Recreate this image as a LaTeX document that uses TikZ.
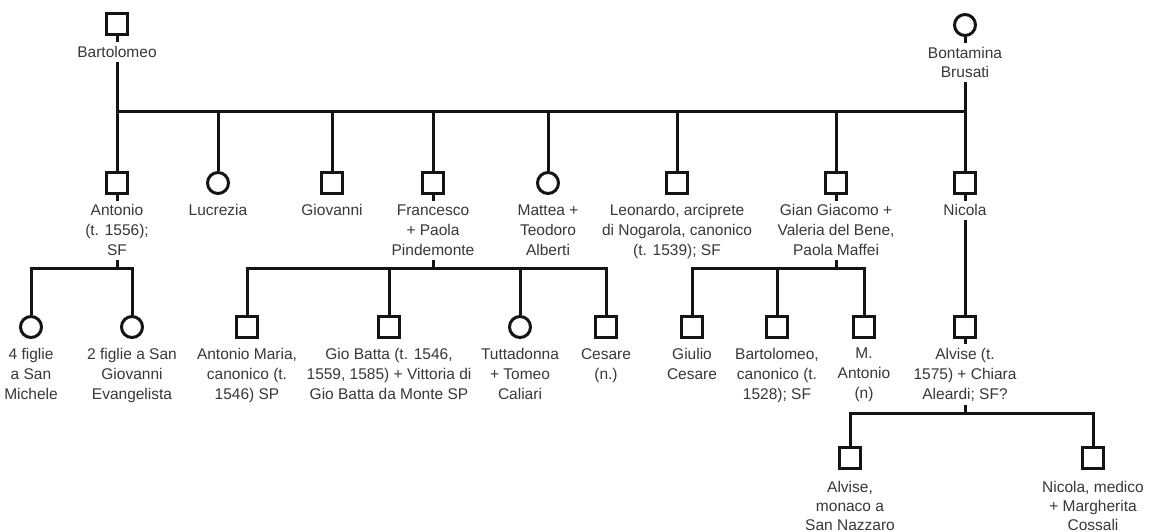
\documentclass[tikz,border=0pt]{standalone}
\usepackage{fontspec}
\setmainfont{Liberation Sans}
\pgfdeclarelayer{bg}
\pgfsetlayers{bg,main}
\begin{document}
\begin{tikzpicture}[x=1pt,y=-1pt,
  male/.style={draw=black!92, line width=3pt, fill=white, rectangle, minimum size=21pt, inner sep=0pt},
  female/.style={draw=black!92, line width=3pt, fill=white, circle, minimum size=21pt, inner sep=0pt},
  link/.style={draw=black!92, line width=3pt, line join=miter},
  lab/.style={align=center, fill=white, inner xsep=2pt, inner ysep=4pt, anchor=north, text=black!78, font=\fontsize{15.5}{20}\selectfont},
  labb/.style={lab, font=\fontsize{15.5}{19}\selectfont}]
\useasboundingbox (0,0) rectangle (1153,532);
% generation 1
\node[male] (bart) at (117,24.5) {};
\node[female] (bont) at (965,25) {};
\node[lab] (bart-l) at (117,42) {Bartolomeo};
\node[labb] (bont-l) at (965,43) {Bontamina\\Brusati};
% generation 2
\node[male] (anton) at (117,183) {};
\node[female] (lucr) at (218,183) {};
\node[male] (giov) at (332,183) {};
\node[male] (fran) at (433,183) {};
\node[female] (matt) at (548,183) {};
\node[male] (leon) at (677,183) {};
\node[male] (giang) at (836,183) {};
\node[male] (nicola) at (965,183) {};
\node[lab] (anton-l) at (117,200.5) {Antonio\\(t. 1556);\\SF};
\node[lab] (lucr-l) at (218,200.5) {Lucrezia};
\node[lab] (giov-l) at (332,200.5) {Giovanni};
\node[lab] (fran-l) at (433,200.5) {Francesco\\+ Paola\\Pindemonte};
\node[lab] (matt-l) at (548,200.5) {Mattea +\\Teodoro\\Alberti};
\node[lab] (leon-l) at (677,200.5) {Leonardo, arciprete\\di Nogarola, canonico\\(t. 1539); SF};
\node[lab] (giang-l) at (836,200.5) {Gian Giacomo +\\Valeria del Bene,\\Paola Maffei};
\node[lab] (nicola-l) at (965,200.5) {Nicola};
% generation 3
\node[female] (fig4) at (31,327) {};
\node[female] (fig2) at (132,327) {};
\node[male] (amaria) at (247,327) {};
\node[male] (giob) at (389,327) {};
\node[female] (tutta) at (520,327) {};
\node[male] (cesare) at (606,327) {};
\node[male] (giulio) at (692,327) {};
\node[male] (bart2) at (777,327) {};
\node[male] (mant) at (864,327) {};
\node[male] (alvise) at (965,327) {};
\node[lab] (fig4-l) at (31,344) {4 figlie\\a San\\Michele};
\node[lab] (fig2-l) at (132,344) {2 figlie a San\\Giovanni\\Evangelista};
\node[lab] (amaria-l) at (247,344) {Antonio Maria,\\canonico (t.\\1546) SP};
\node[lab] (giob-l) at (389,344) {Gio Batta (t. 1546,\\1559, 1585) + Vittoria di\\Gio Batta da Monte SP};
\node[lab] (tutta-l) at (520,344) {Tuttadonna\\+ Tomeo\\Caliari};
\node[lab] (cesare-l) at (606,344) {Cesare\\(n.)};
\node[lab] (giulio-l) at (692,344) {Giulio\\Cesare};
\node[lab] (bart2-l) at (777,344) {Bartolomeo,\\canonico (t.\\1528); SF};
\node[lab] (mant-l) at (864,344) {M.\\Antonio\\(n)};
\node[lab] (alvise-l) at (965,344) {Alvise (t.\\1575) + Chiara\\Aleardi; SF?};
% generation 4
\node[male] (alv2) at (850,458) {};
\node[male] (nic2) at (1093,458) {};
\node[labb] (alv2-l) at (850,477.5) {Alvise,\\monaco a\\San Nazzaro};
\node[labb] (nic2-l) at (1093,477.5) {Nicola, medico\\+ Margherita\\Cossali};
% bar coordinates
\coordinate (barA) at (0,112);
\coordinate (barB) at (0,268.5);
\coordinate (barC) at (0,413);
\begin{pgfonlayer}{bg}
\draw[link] (bart) -- (anton);
\draw[link] (bont) -- (nicola);
\draw[link] (bart |- barA) -- (bont |- barA);
\foreach \c in {lucr,giov,fran,matt,leon,giang}
  \draw[link] (\c |- barA) -- (\c);
% Antonio's children
\draw[link] (anton) -- (anton |- barB);
\draw[link] (fig4) -- (fig4 |- barB) -- (fig2 |- barB) -- (fig2);
% Francesco's children
\draw[link] (fran) -- (fran |- barB);
\draw[link] (amaria) -- (amaria |- barB) -- (cesare |- barB) -- (cesare);
\draw[link] (giob |- barB) -- (giob);
\draw[link] (tutta |- barB) -- (tutta);
% Gian Giacomo's children
\draw[link] (giang) -- (giang |- barB);
\draw[link] (giulio) -- (giulio |- barB) -- (mant |- barB) -- (mant);
\draw[link] (bart2 |- barB) -- (bart2);
% Nicola -> Alvise
\draw[link] (nicola) -- (alvise);
% Alvise's children
\draw[link] (alvise) -- (alvise |- barC);
\draw[link] (alv2) -- (alv2 |- barC) -- (nic2 |- barC) -- (nic2);
\end{pgfonlayer}
\end{tikzpicture}
\end{document}
